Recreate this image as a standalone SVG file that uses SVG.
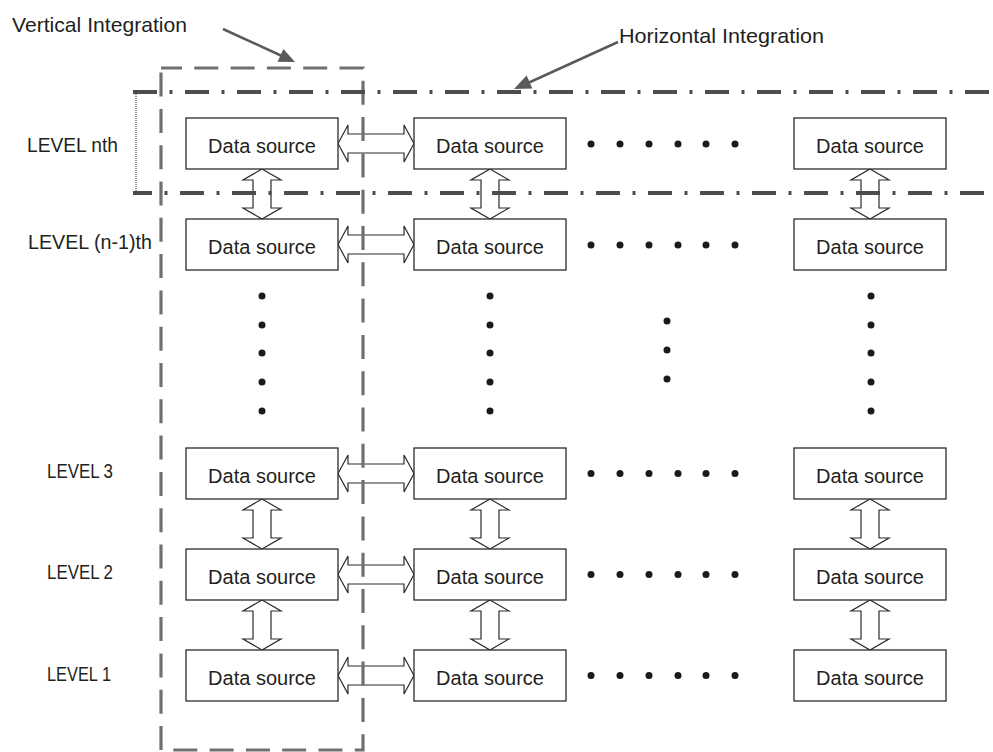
<svg xmlns="http://www.w3.org/2000/svg" width="993" height="752" viewBox="0 0 993 752">
  <defs>
    <style>
      text { font-family: "Liberation Sans", Arial, sans-serif; fill: #231f20; }
      .box { fill: #ffffff; stroke: #2b2b2b; stroke-width: 1.3; }
      .lbl { font-size: 20px; text-anchor: middle; }
      .lvl { font-size: 20px; }
      .cap { font-size: 21px; }
      .dbl { fill: #ffffff; stroke: #2b2b2b; stroke-width: 1.2; stroke-linejoin: miter; }
      .dot { fill: #1a1a1a; }
      .vert { fill: none; stroke: #707070; stroke-width: 3.2; stroke-dasharray: 24 12.3; }
      .horz { fill: none; stroke: #4d4d4d; stroke-width: 4; stroke-dasharray: 24 12.5 3 12.5; }
      .edge { fill: none; stroke: #333333; stroke-width: 1; stroke-dasharray: 1 1; }
      .pointer { fill: none; stroke: #5a5a5a; stroke-width: 2.5; }
      .pointer-head { fill: #5a5a5a; }
    </style>
    <!-- double-headed block arrows, horizontal (76 long) and vertical (50 long) -->
    <path id="harrow" class="dbl" d="M0,0 L10,-18.5 L10,-9.5 L66,-9.5 L66,-18.5 L76,0 L66,18.5 L66,9.5 L10,9.5 L10,18.5 Z"/>
    <path id="varrow" class="dbl" d="M0,0 L19,11 L9,11 L9,39 L19,39 L0,50 L-19,39 L-9,39 L-9,11 L-19,11 Z"/>
  </defs>

  <!-- captions with pointers -->
  <g id="caption-vertical">
    <text class="cap" x="12" y="32" textLength="175" lengthAdjust="spacingAndGlyphs">Vertical Integration</text>
    <line class="pointer" x1="223" y1="29" x2="284" y2="57"/>
    <polygon class="pointer-head" points="295,62 277.6,61.7 283.4,48.9"/>
  </g>
  <g id="caption-horizontal">
    <text class="cap" x="619" y="43" textLength="205" lengthAdjust="spacingAndGlyphs">Horizontal Integration</text>
    <line class="pointer" x1="618" y1="42" x2="528" y2="83"/>
    <polygon class="pointer-head" points="514,89 526.6,75.6 532.4,88.4"/>
  </g>

  <!-- level labels -->
  <g id="levels">
    <text class="lvl" x="27" y="152" textLength="91" lengthAdjust="spacingAndGlyphs">LEVEL nth</text>
    <text class="lvl" x="28" y="249" textLength="124" lengthAdjust="spacingAndGlyphs">LEVEL (n-1)th</text>
    <text class="lvl" x="47" y="478" textLength="66" lengthAdjust="spacingAndGlyphs">LEVEL 3</text>
    <text class="lvl" x="47" y="579" textLength="66" lengthAdjust="spacingAndGlyphs">LEVEL 2</text>
    <text class="lvl" x="47" y="681" textLength="64" lengthAdjust="spacingAndGlyphs">LEVEL 1</text>
  </g>

  <!-- connectors -->
  <g id="connectors">
    <!-- horizontal links, first to second column -->
    <use href="#harrow" x="338" y="143.5"/>
    <use href="#harrow" x="338" y="244.5"/>
    <use href="#harrow" x="338" y="473.5"/>
    <use href="#harrow" x="338" y="574.5"/>
    <use href="#harrow" x="338" y="675.5"/>
    <!-- vertical links between levels -->
    <use href="#varrow" x="262" y="169"/>
    <use href="#varrow" x="490" y="169"/>
    <use href="#varrow" x="870" y="169"/>
    <use href="#varrow" x="262" y="499"/>
    <use href="#varrow" x="490" y="499"/>
    <use href="#varrow" x="870" y="499"/>
    <use href="#varrow" x="262" y="600"/>
    <use href="#varrow" x="490" y="600"/>
    <use href="#varrow" x="870" y="600"/>
  </g>

  <!-- integration boundaries, drawn over the links they cross -->
  <g id="boundaries">
    <path class="vert" stroke-dashoffset="3" d="M161,68 H363 V750 H161 Z"/>
    <line class="horz" x1="133" y1="92" x2="993" y2="92"/>
    <line class="horz" x1="133" y1="193" x2="993" y2="193" stroke-dashoffset="5"/>
    <line class="edge" x1="136" y1="92" x2="136" y2="193"/>
  </g>

  <!-- data source nodes -->
  <g id="n-nth-1"><rect class="box" x="186" y="118" width="152" height="51"/><text class="lbl" x="262" y="152.5">Data source</text></g>
  <g id="n-nth-2"><rect class="box" x="414" y="118" width="152" height="51"/><text class="lbl" x="490" y="152.5">Data source</text></g>
  <g id="n-nth-3"><rect class="box" x="794" y="118" width="152" height="51"/><text class="lbl" x="870" y="152.5">Data source</text></g>
  <g id="n-n1-1"><rect class="box" x="186" y="219" width="152" height="51"/><text class="lbl" x="262" y="253.5">Data source</text></g>
  <g id="n-n1-2"><rect class="box" x="414" y="219" width="152" height="51"/><text class="lbl" x="490" y="253.5">Data source</text></g>
  <g id="n-n1-3"><rect class="box" x="794" y="219" width="152" height="51"/><text class="lbl" x="870" y="253.5">Data source</text></g>
  <g id="n-l3-1"><rect class="box" x="186" y="448" width="152" height="51"/><text class="lbl" x="262" y="482.5">Data source</text></g>
  <g id="n-l3-2"><rect class="box" x="414" y="448" width="152" height="51"/><text class="lbl" x="490" y="482.5">Data source</text></g>
  <g id="n-l3-3"><rect class="box" x="794" y="448" width="152" height="51"/><text class="lbl" x="870" y="482.5">Data source</text></g>
  <g id="n-l2-1"><rect class="box" x="186" y="549" width="152" height="51"/><text class="lbl" x="262" y="583.5">Data source</text></g>
  <g id="n-l2-2"><rect class="box" x="414" y="549" width="152" height="51"/><text class="lbl" x="490" y="583.5">Data source</text></g>
  <g id="n-l2-3"><rect class="box" x="794" y="549" width="152" height="51"/><text class="lbl" x="870" y="583.5">Data source</text></g>
  <g id="n-l1-1"><rect class="box" x="186" y="650" width="152" height="51"/><text class="lbl" x="262" y="684.5">Data source</text></g>
  <g id="n-l1-2"><rect class="box" x="414" y="650" width="152" height="51"/><text class="lbl" x="490" y="684.5">Data source</text></g>
  <g id="n-l1-3"><rect class="box" x="794" y="650" width="152" height="51"/><text class="lbl" x="870" y="684.5">Data source</text></g>

  <!-- ellipsis dots -->
  <g id="ellipses" class="dot">
    <!-- row ellipses between second and last column -->
    <g id="row-dots">
      <circle cx="591" cy="144" r="3.5"/><circle cx="620" cy="144" r="3.5"/><circle cx="649" cy="144" r="3.5"/><circle cx="678" cy="144" r="3.5"/><circle cx="706" cy="144" r="3.5"/><circle cx="735" cy="144" r="3.5"/>
      <circle cx="591" cy="245" r="3.5"/><circle cx="620" cy="245" r="3.5"/><circle cx="649" cy="245" r="3.5"/><circle cx="678" cy="245" r="3.5"/><circle cx="706" cy="245" r="3.5"/><circle cx="735" cy="245" r="3.5"/>
      <circle cx="591" cy="473.5" r="3.5"/><circle cx="620" cy="473.5" r="3.5"/><circle cx="649" cy="473.5" r="3.5"/><circle cx="678" cy="473.5" r="3.5"/><circle cx="706" cy="473.5" r="3.5"/><circle cx="735" cy="473.5" r="3.5"/>
      <circle cx="591" cy="574.5" r="3.5"/><circle cx="620" cy="574.5" r="3.5"/><circle cx="649" cy="574.5" r="3.5"/><circle cx="678" cy="574.5" r="3.5"/><circle cx="706" cy="574.5" r="3.5"/><circle cx="735" cy="574.5" r="3.5"/>
      <circle cx="591" cy="675.5" r="3.5"/><circle cx="620" cy="675.5" r="3.5"/><circle cx="649" cy="675.5" r="3.5"/><circle cx="678" cy="675.5" r="3.5"/><circle cx="706" cy="675.5" r="3.5"/><circle cx="735" cy="675.5" r="3.5"/>
    </g>
    <!-- column ellipses between level (n-1) and level 3 -->
    <g id="column-dots">
      <circle cx="262" cy="296" r="3.5"/><circle cx="262" cy="325" r="3.5"/><circle cx="262" cy="353" r="3.5"/><circle cx="262" cy="382" r="3.5"/><circle cx="262" cy="411" r="3.5"/>
      <circle cx="490" cy="296" r="3.5"/><circle cx="490" cy="325" r="3.5"/><circle cx="490" cy="353" r="3.5"/><circle cx="490" cy="382" r="3.5"/><circle cx="490" cy="411" r="3.5"/>
      <circle cx="667" cy="321" r="3.5"/><circle cx="667" cy="350" r="3.5"/><circle cx="667" cy="379" r="3.5"/>
      <circle cx="871" cy="296" r="3.5"/><circle cx="871" cy="325" r="3.5"/><circle cx="871" cy="353" r="3.5"/><circle cx="871" cy="382" r="3.5"/><circle cx="871" cy="411" r="3.5"/>
    </g>
  </g>
</svg>
